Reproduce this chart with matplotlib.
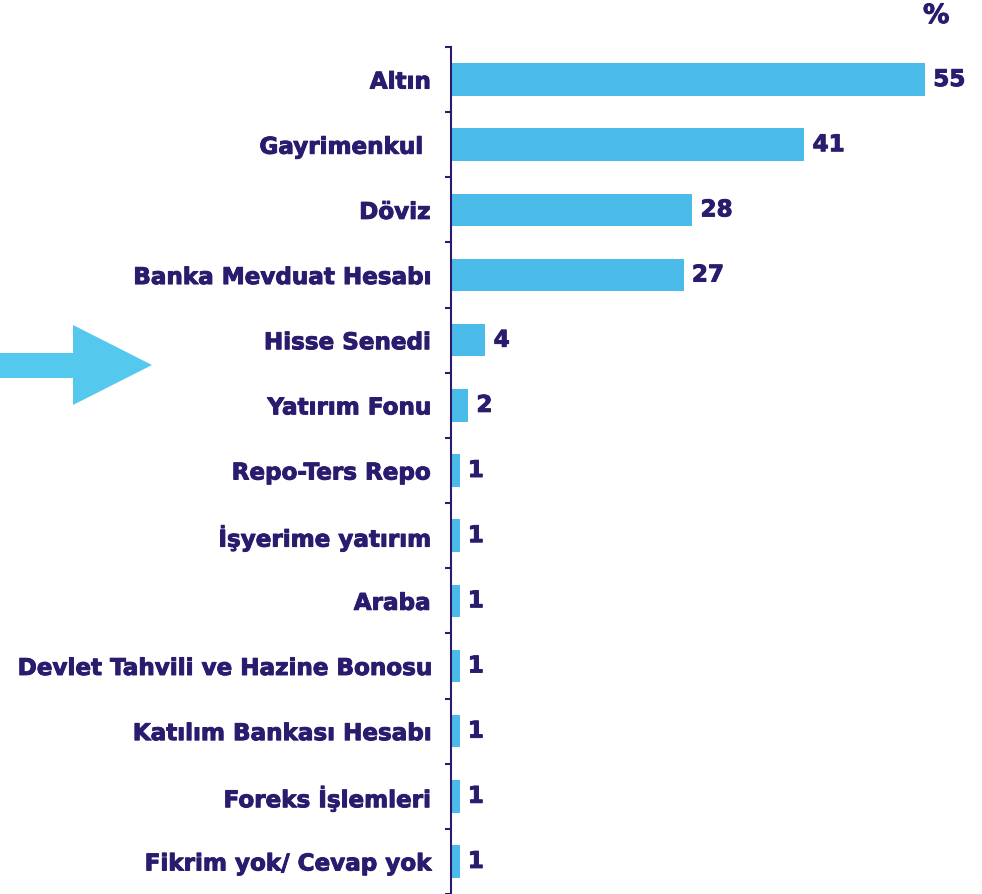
"""Horizontal bar chart of preferred investment instruments (%)."""

import matplotlib.pyplot as plt
import matplotlib.patheffects as pe
from matplotlib.patches import Polygon
from matplotlib.ticker import FixedLocator

categories = [
    "Altın", "Gayrimenkul ", "Döviz", "Banka Mevduat Hesabı", "Hisse Senedi",
    "Yatırım Fonu", "Repo-Ters Repo", "İşyerime yatırım", "Araba",
    "Devlet Tahvili ve Hazine Bonosu", "Katılım Bankası Hesabı",
    "Foreks İşlemleri", "Fikrim yok/ Cevap yok",
]
values = [55, 41, 28, 27, 4, 2, 1, 1, 1, 1, 1, 1, 1]

NAVY = "#2B1B6E"
BAR = "#4BBCEA"
ARROW = "#55C8EE"
FS = 16.6
heavy = [pe.withStroke(linewidth=0.7, foreground=NAVY)]

plt.rcParams["font.family"] = ["DejaVu Sans"]
plt.rcParams["font.weight"] = "bold"

fig = plt.figure(figsize=(9.82, 8.94), dpi=100)
W, H = 982, 894
ax = fig.add_axes([451 / W, 0.0, 1 - 451 / W, 1 - 47 / H])

pos = list(range(len(categories)))
ax.barh(pos, values, height=0.5, color=BAR)
ax.set_ylim(len(categories) - 0.5, -0.5)
ax.set_xlim(0, 531 / 8.62)

for y, v in zip(pos, values):
    ax.text(v + 0.95, y, str(v), va="center", ha="left", fontsize=FS,
            fontweight="bold", color=NAVY, path_effects=heavy)

ax.set_yticks(pos)
ax.set_yticklabels(categories, fontsize=FS, fontweight="bold", color=NAVY)
for lbl in ax.get_yticklabels():
    lbl.set_path_effects(heavy)
ax.yaxis.set_minor_locator(FixedLocator([p - 0.5 for p in pos] + [len(pos) - 0.5]))
ax.tick_params(axis="y", which="major", length=0, pad=15)
ax.tick_params(axis="y", which="minor", length=4, width=1.5, color=NAVY, direction="out")
ax.set_xticks([])

for side in ["top", "right", "bottom"]:
    ax.spines[side].set_visible(False)
ax.spines["left"].set_color(NAVY)
ax.spines["left"].set_linewidth(1.5)

fig.text(923 / W, 1 - 16 / H, "%", ha="left", va="center", fontsize=19,
         fontweight="bold", color=NAVY, path_effects=heavy)

# arrow pointing at "Hisse Senedi"
arrow_pts = [(0, 353), (73, 353), (73, 325), (152, 365), (73, 405), (73, 378), (0, 378)]
fig.patches.append(Polygon([(x / W, 1 - y / H) for x, y in arrow_pts], closed=True,
                           transform=fig.transFigure, facecolor=ARROW, edgecolor="none"))

fig.savefig("out.png", dpi=100)
